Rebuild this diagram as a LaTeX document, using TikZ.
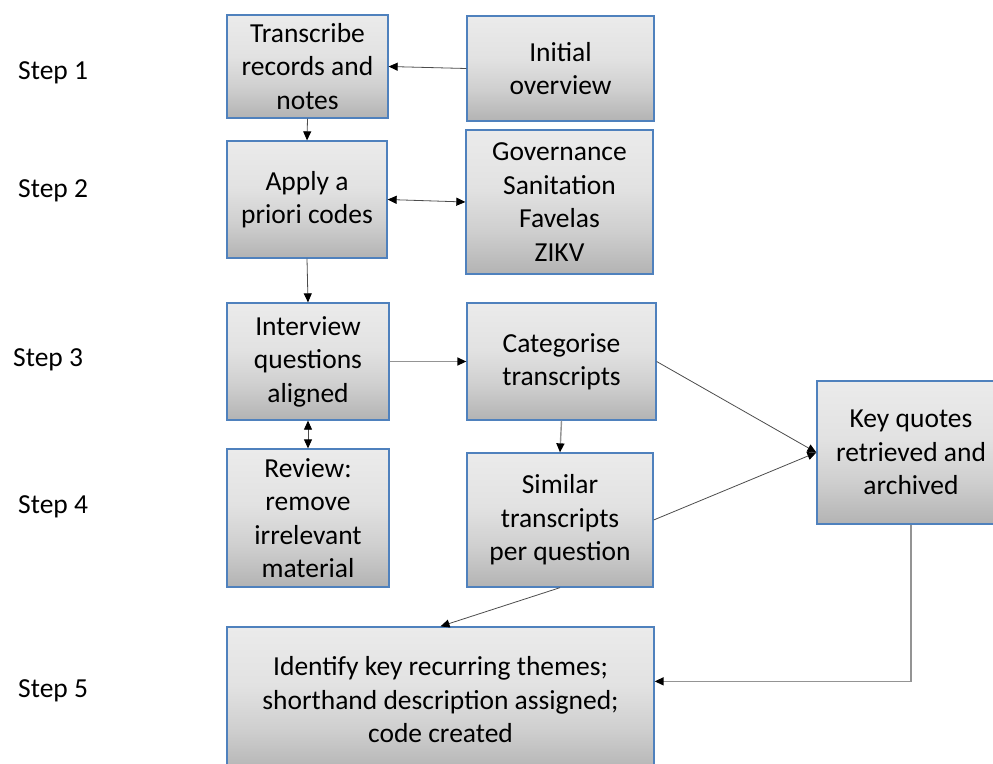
\documentclass[tikz,border=0pt]{standalone}
\usepackage{fontspec}
\setmainfont{Carlito}
\usetikzlibrary{arrows.meta,calc}
\definecolor{boxborder}{HTML}{4F81BD}
\definecolor{shTop}{HTML}{EBEBEB}
\definecolor{shUp}{HTML}{E2E2E2}
\definecolor{shMid}{HTML}{CFCFCF}
\definecolor{shBot}{HTML}{B3B3B3}
\pgfdeclareverticalshading{boxshade}{100bp}{color(0bp)=(shBot); color(25bp)=(shBot); color(40bp)=(shMid); color(55bp)=(shUp); color(75bp)=(shTop); color(100bp)=(shTop)}
\tikzset{tipA/.tip={Triangle[length=9pt,width=8pt,color=black]}}
\begin{document}
\begin{tikzpicture}[x=1pt,y=-1pt,
  every node/.style={font=\fontsize{27.5}{33.5}\selectfont},
  flowbox/.style={rectangle, draw=boxborder, line width=1.3pt, shading=boxshade, inner sep=0pt, align=center},
  steplabel/.style={anchor=west, inner sep=0pt},
  conn/.style={draw=black!70, line width=0.8pt, -tipA},
  dconn/.style={draw=black!70, line width=0.8pt, tipA-tipA},
  gconn/.style={draw=black!42, line width=1.4pt, -tipA}
]
\useasboundingbox (0,0) rectangle (993,763);

\node[steplabel] (s1) at (18,73) {Step 1};
\node[steplabel] (s2) at (18,191) {Step 2};
\node[steplabel] (s3) at (13,360) {Step 3};
\node[steplabel] (s4) at (18,507) {Step 4};
\node[steplabel] (s5) at (18,691) {Step 5};

\node[flowbox, minimum width=161pt, minimum height=103pt] (trans) at (307.5,66.5) {Transcribe\\records and\\notes};
\node[flowbox, minimum width=187pt, minimum height=105pt] (init) at (560.5,68.5) {Initial\\overview};
\node[flowbox, minimum width=160pt, minimum height=117pt] (apply) at (307,199.5) {Apply a\\priori codes};
\node[flowbox, minimum width=187pt, minimum height=144pt] (gov) at (559.5,202) {Governance\\Sanitation\\Favelas\\ZIKV};
\node[flowbox, minimum width=162pt, minimum height=117pt] (inter) at (308,361.5) {Interview\\questions\\aligned};
\node[flowbox, minimum width=189pt, minimum height=117pt] (cat) at (561.5,361.5) {Categorise\\transcripts};
\node[flowbox, minimum width=162pt, minimum height=138pt] (rev) at (308,518) {Review:\\remove\\irrelevant\\material};
\node[flowbox, minimum width=186pt, minimum height=134pt] (sim) at (560,520) {Similar\\transcripts\\per question};
\node[flowbox, minimum width=188pt, minimum height=143pt] (key) at (911,452.5) {Key quotes\\retrieved and\\archived};
\node[flowbox, minimum width=427pt, minimum height=146pt] (iden) at (440.5,700) {Identify key recurring themes;\\shorthand description assigned;\\code created};

\draw[conn] (init.west) -- (trans.east);
\draw[conn] (trans.south) -- (apply.north);
\draw[dconn] (apply.east) -- (gov.west);
\draw[conn] (apply.south) -- (inter.north);
\draw[gconn] (inter.east) -- (cat.west);
\draw[dconn] (inter.south) -- (rev.north);
\draw[gconn] (cat.south) -- (sim.north);
\draw[conn] (cat.east) -- (key.west);
\draw[conn] (sim.east) -- (key.west);
\draw[conn] (sim.south) -- (iden.north);
\draw[gconn] (key.south) |- ([yshift=-55pt]iden.north east);
\end{tikzpicture}
\end{document}
